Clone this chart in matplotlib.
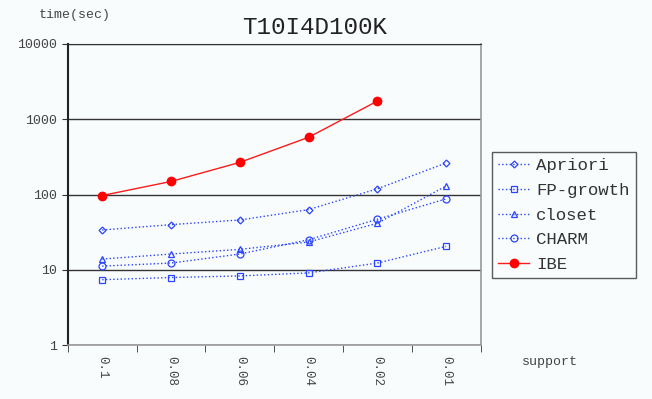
import numpy as np
import matplotlib.pyplot as plt

support = ['0.1', '0.08', '0.06', '0.04', '0.02', '0.01']
apriori = [33.8, 39.8, 45.9, 63, 119, 262]
fpgrowth = [7.4, 7.9, 8.3, 9.1, 12.3, 20.5]
closet = [13.9, 16.2, 18.7, 23.4, 41.5, 130]
charm = [11.2, 12.3, 16.2, 25.1, 46.9, 87.5]
ibe_support = ['0.1', '0.08', '0.06', '0.04', '0.02']
ibe = [97, 149, 267, 575, 1740]

plt.rcParams['font.family'] = ['Liberation Mono', 'DejaVu Sans Mono']
bg = '#f9fcfd'
blue = '#2a44ff'

fig = plt.figure(figsize=(6.52, 3.99), dpi=100, facecolor=bg)
ax = fig.add_axes([0.104, 0.135, 0.633, 0.755], facecolor=bg)

x = np.arange(len(support))
xi = np.arange(len(ibe_support))

ax.plot(x, apriori, ls=':', color=blue, lw=1, marker='D', ms=3.5, mfc='none', mec=blue, mew=0.9, label='Apriori')
ax.plot(x, fpgrowth, ls=':', color=blue, lw=1, marker='s', ms=5, mfc='none', mec=blue, mew=0.9, label='FP-growth')
ax.plot(x, closet, ls=':', color=blue, lw=1, marker='^', ms=5, mfc='none', mec=blue, mew=0.9, label='closet')
ax.plot(x, charm, ls=':', color=blue, lw=1, marker='o', ms=5, mfc='none', mec=blue, mew=0.9, label='CHARM')
ax.plot(xi, ibe, ls='-', color='#ff1a1a', lw=1, marker='o', ms=6, mfc='#ff0000', mec='#ff0000', label='IBE')

ax.set_yscale('log')
ax.set_ylim(1, 10000)
ax.set_xlim(-0.5, len(support) - 0.5)
ax.set_yticks([1, 10, 100, 1000, 10000])
ax.set_yticklabels(['1', '10', '100', '1000', '10000'])
ax.yaxis.set_minor_locator(plt.NullLocator())
ax.grid(axis='y', which='major', color='#333333', lw=1)

ax.set_xticks(x)
ax.set_xticklabels(support, rotation=-90)
ax.set_xticks(np.arange(len(support) + 1) - 0.5, minor=True)
ax.tick_params(axis='x', which='major', length=0, pad=8, labelsize=9, labelcolor='#444444')
ax.tick_params(axis='x', which='minor', length=5, color='#333333')
ax.tick_params(axis='y', length=4, color='#333333', labelsize=9.5, labelcolor='#444444')

ax.spines['left'].set_color('#222222')
ax.spines['left'].set_linewidth(1.5)
for s in ['bottom', 'right']:
    ax.spines[s].set_color('#999999')
    ax.spines[s].set_linewidth(1.2)
ax.spines['top'].set_color('#333333')

ax.set_axisbelow(True)

fig.text(0.483, 0.932, 'T10I4D100K', ha='center', va='center', fontsize=17.5, color='#222222')
fig.text(0.115, 0.962, 'time(sec)', ha='center', va='center', fontsize=9.5, color='#444444')
fig.text(0.843, 0.093, 'support', ha='center', va='center', fontsize=9.5, color='#444444')

leg = ax.legend(loc='upper left', bbox_to_anchor=(1.028, 0.641), frameon=True, fancybox=False,
                edgecolor='#333333', facecolor=bg, fontsize=12.5, handlelength=1.8,
                handletextpad=0.4, borderpad=0.35, labelspacing=0.55, borderaxespad=0)
for t in leg.get_texts():
    t.set_color('#333333')
leg.get_frame().set_linewidth(1)

fig.savefig('out.png', dpi=100, facecolor=bg)
